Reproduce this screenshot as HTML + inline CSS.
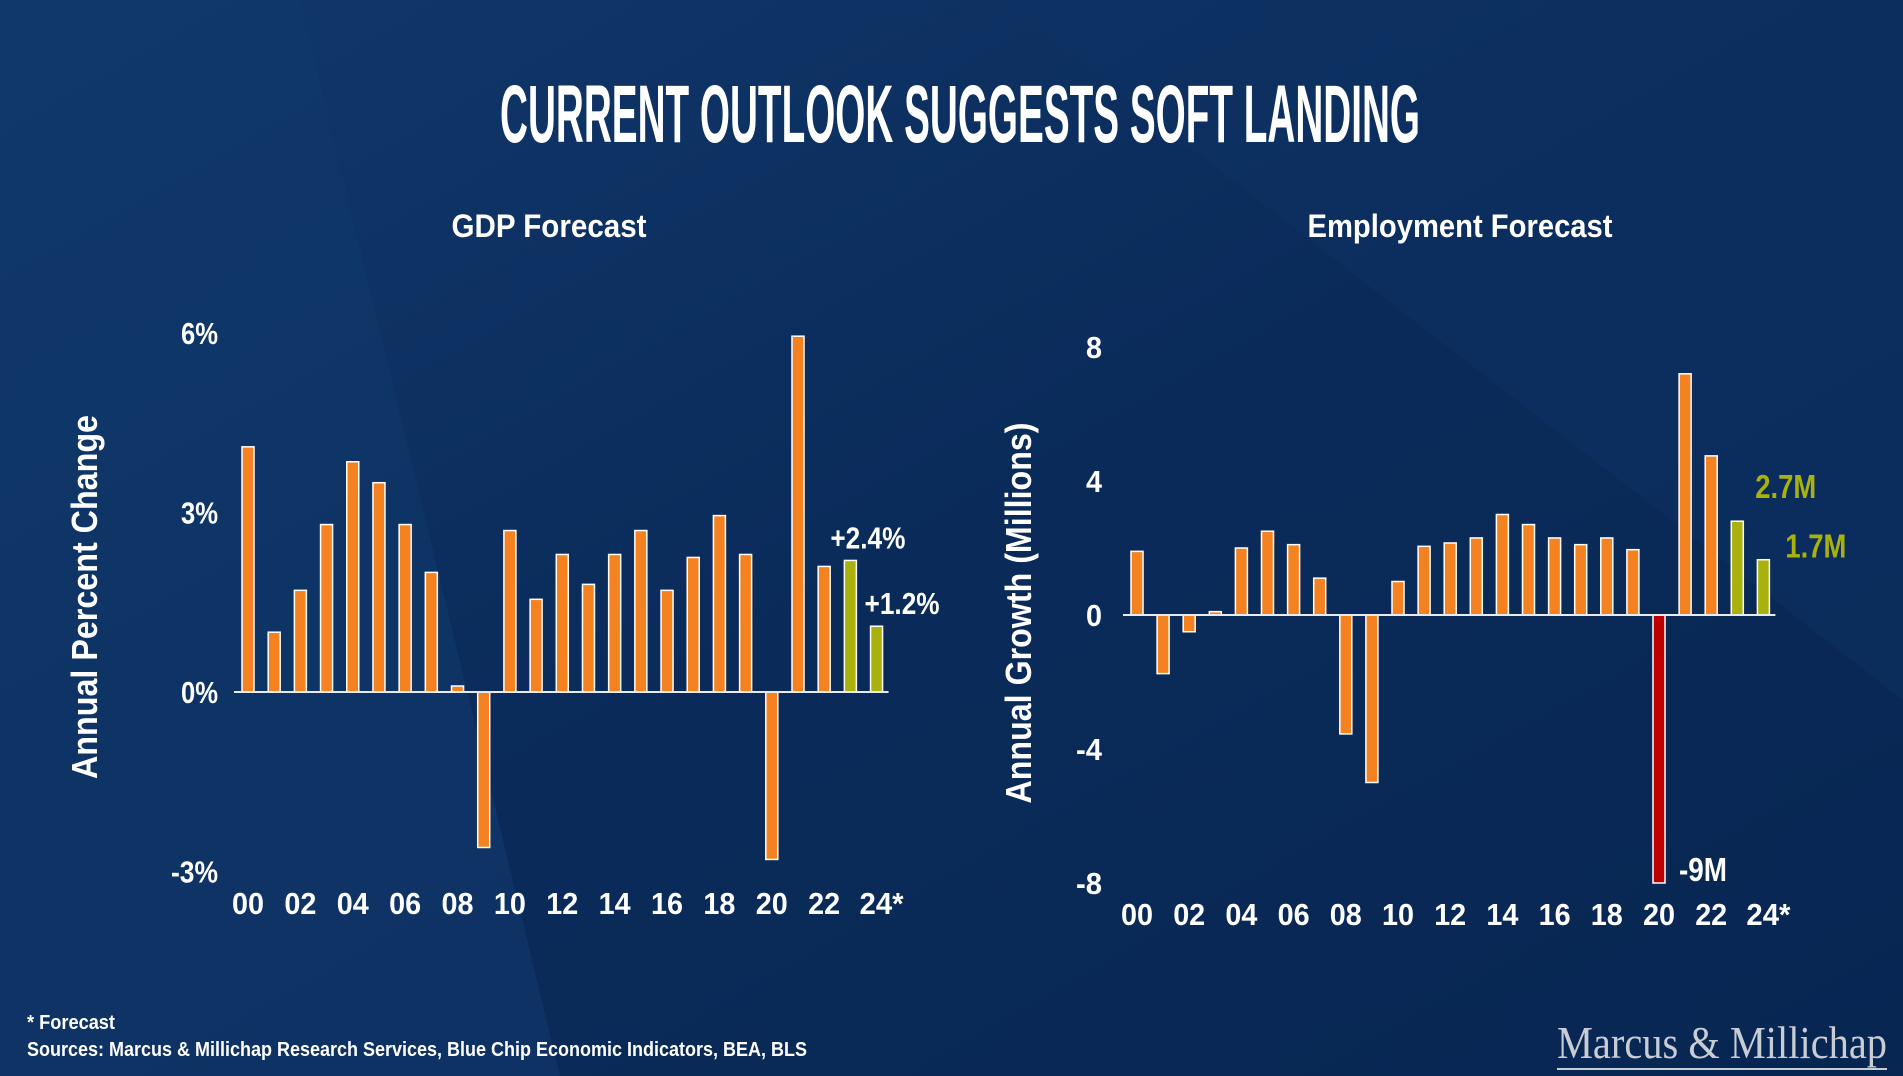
<!DOCTYPE html>
<html><head><meta charset="utf-8"><style>
html,body{margin:0;padding:0;width:1903px;height:1076px;overflow:hidden;background:#0a2a57}
svg{display:block}
text{font-family:"Liberation Sans Narrow","Liberation Sans",sans-serif;font-weight:bold;fill:#fff}
</style></head><body>
<svg id="s" width="1903" height="1076" viewBox="0 0 1903 1076">
<defs>
<linearGradient id="bg" x1="0" y1="0" x2="1" y2="1">
<stop offset="0" stop-color="#11386b"/><stop offset="0.5" stop-color="#0a2b5a"/><stop offset="1" stop-color="#082652"/>
</linearGradient>
</defs>
<rect width="1903" height="1076" fill="url(#bg)"/>
<polygon points="0,0 300,0 560,1076 0,1076" fill="#10386b" opacity="0.6"/>
<polygon points="1000,0 1903,0 1903,700" fill="#0d3163" opacity="0.5"/>
<text x="960" y="142" font-size="82" text-anchor="middle" textLength="920" lengthAdjust="spacingAndGlyphs">CURRENT OUTLOOK SUGGESTS SOFT LANDING</text>
<text x="549" y="237" font-size="32" text-anchor="middle" textLength="195" lengthAdjust="spacingAndGlyphs">GDP Forecast</text>
<text x="1460" y="237" font-size="32" text-anchor="middle" textLength="305" lengthAdjust="spacingAndGlyphs">Employment Forecast</text>
<text transform="translate(97,597) rotate(-90)" font-size="36" text-anchor="middle" textLength="364" lengthAdjust="spacingAndGlyphs" style="font-family:'Liberation Sans',sans-serif">Annual Percent Change</text>
<text transform="translate(1031,613) rotate(-90)" font-size="36" text-anchor="middle" textLength="381" lengthAdjust="spacingAndGlyphs" style="font-family:'Liberation Sans',sans-serif">Annual Growth (Millions)</text>
<g id="gdp"></g>
<g id="emp"></g>
<text x="27" y="1029" font-size="20" textLength="88" lengthAdjust="spacingAndGlyphs">* Forecast</text>
<text x="27" y="1056" font-size="20" textLength="780" lengthAdjust="spacingAndGlyphs">Sources: Marcus &amp; Millichap Research Services, Blue Chip Economic Indicators, BEA, BLS</text>
<text x="1557" y="1058" font-size="46" textLength="330" lengthAdjust="spacingAndGlyphs" style="font-family:'Liberation Serif',serif;font-weight:normal;fill:#c8ccd4">Marcus &amp; Millichap</text>
<rect x="1557" y="1068" width="330" height="2" fill="#c8ccd4"/>
</svg>
<script>
const years = ["00","01","02","03","04","05","06","07","08","09","10","11","12","13","14","15","16","17","18","19","20","21","22","23","24"];
const xLabels = ["00","02","04","06","08","10","12","14","16","18","20","22","24*"];
const gdpValues = [4.1,1.0,1.7,2.8,3.85,3.5,2.8,2.0,0.1,-2.6,2.7,1.55,2.3,1.8,2.3,2.7,1.7,2.25,2.95,2.3,-2.8,5.95,2.1,2.2,1.1];
const gdpTicks = [6,3,0,-3];
const gdpTickLabels = ["6%","3%","0%","-3%"];
const empValues = [1.9,-1.75,-0.5,0.1,2.0,2.5,2.1,1.1,-3.55,-5.0,1.0,2.05,2.15,2.3,3.0,2.7,2.3,2.1,2.3,1.95,-8.0,7.2,4.75,2.8,1.65];
const empTicks = [8,4,0,-4,-8];
const empTickLabels = ["8","4","0","-4","-8"];
const gdpNotes = [{i:23,t:"+2.4%"},{i:24,t:"+1.2%"}];
const empNotes = [{i:23,t:"2.7M"},{i:24,t:"1.7M"},{i:20,t:"-9M"}];

const NS="http://www.w3.org/2000/svg";
function mk(p,tag,a){const e=document.createElementNS(NS,tag);for(const k in a)e.setAttribute(k,a[k]);p.appendChild(e);return e;}
function cw(s){let w=0;for(const c of s){w+= (c==='%')?21:(c==='-'||c==='+')?(c==='+'?15:10):(c==='.')?7:(c==='*')?12:(c==='M')?22:16;}return w;}

function draw(g,cfg){
  const x=i=>cfg.x0+i*cfg.step;
  const y=v=>cfg.zero-v*cfg.unit;
  cfg.ticks.forEach((t,k)=>{
    const s=cfg.tickLabels[k];
    const e=mk(g,'text',{x:cfg.tickX,y:y(t)+11,'font-size':31,'text-anchor':'end',textLength:cw(s),lengthAdjust:'spacingAndGlyphs'});
    e.textContent=s;
    
    
  });
  cfg.vals.forEach((v,i)=>{
    let fill='#f58220';
    if(i>=23) fill='#a9b10c';
    if(cfg.redIdx===i) fill='#c00000';
    const top=Math.min(y(v),y(0)), h=Math.abs(y(v)-y(0));
    const r=mk(g,'rect',{x:x(i)-6,y:top,width:12,height:Math.max(h,1),fill:fill,stroke:'#fff','stroke-width':1.5});
    
    
  });
  const ax=mk(g,'line',{x1:x(0)-14,x2:x(24)+12,y1:y(0),y2:y(0),stroke:'#e8ecf2','stroke-width':2});
  
  
  xLabels.forEach((l,k)=>{
    const e=mk(g,'text',{x:x(k*2)+(l.length>2?5:0),y:cfg.labelY,'font-size':31,'text-anchor':'middle',textLength:cw(l),lengthAdjust:'spacingAndGlyphs'});
    e.textContent=l;
    
    
  });
  cfg.notes.forEach(n=>{
    const v=cfg.vals[n.i];
    const isNeg=v<0;
    const e=mk(g,'text',{x:x(n.i)+cfg.noteDx(n),y:isNeg?y(v)-2:y(v)+cfg.noteDy(n),'font-size':cfg.noteSize,'text-anchor':'start',textLength:cw(n.t)*cfg.noteScale,lengthAdjust:'spacingAndGlyphs'});
    if(cfg.noteColor(n)) e.setAttribute('style','fill:'+cfg.noteColor(n));
    e.textContent=n.t;
    
    
  });
}
draw(document.getElementById('gdp'),{prefix:'gdp',x0:248,step:26.19,zero:692,unit:59.8,ticks:gdpTicks,tickLabels:gdpTickLabels,vals:gdpValues,tickX:218,labelY:914,notes:gdpNotes,redIdx:-1,noteSize:31,noteScale:1.0,
  noteDx:n=>n.i===23?-20:-12,noteDy:n=>-12,noteColor:n=>null});
draw(document.getElementById('emp'),{prefix:'employment',x0:1137,step:26.1,zero:615,unit:33.5,ticks:empTicks,tickLabels:empTickLabels,vals:empValues,tickX:1102,labelY:925,notes:empNotes,redIdx:20,noteSize:33,noteScale:1.0,
  noteDx:n=>n.i===20?20:(n.i===23?18:22),noteDy:n=>n.i===23?-23:-2,noteColor:n=>n.i===20?null:'#a9b10c'});
</script>
</body></html>
